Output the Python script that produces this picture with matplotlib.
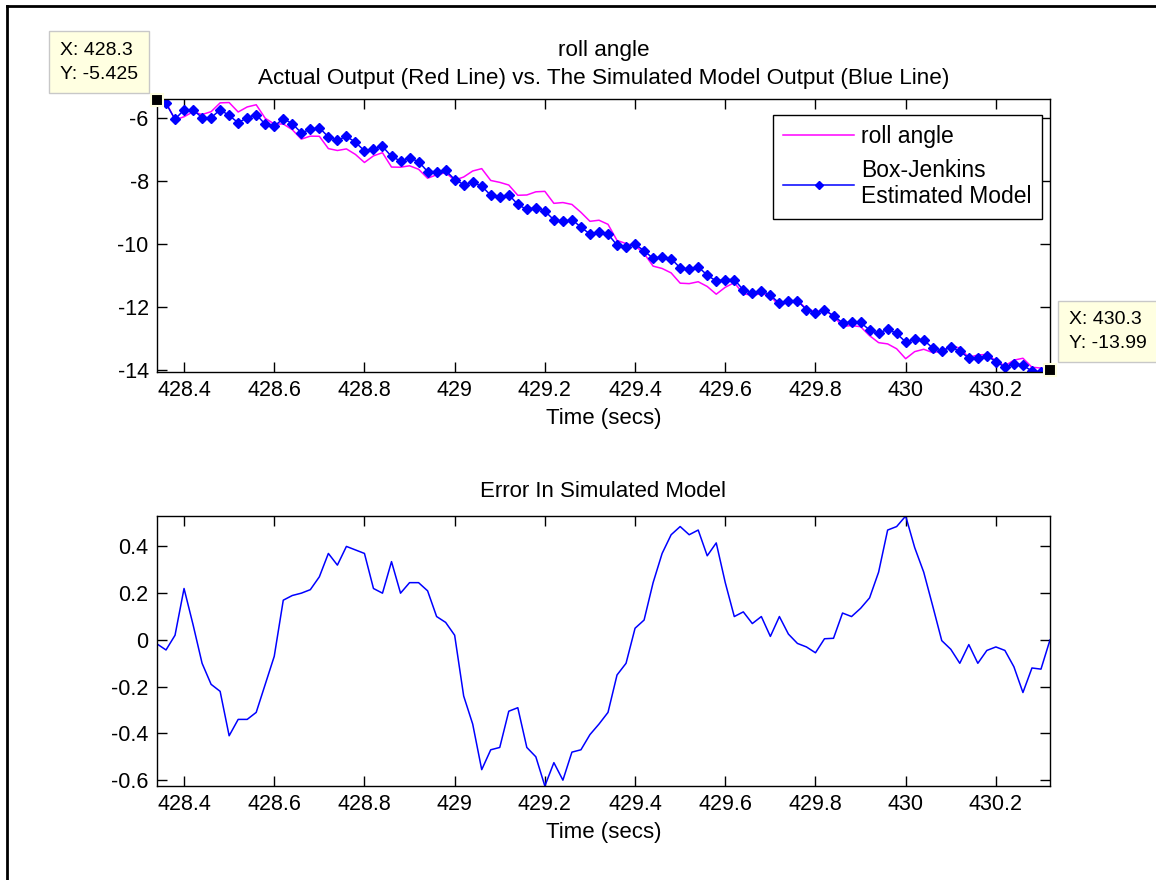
import matplotlib
matplotlib.use('Agg')
import matplotlib.pyplot as plt
from matplotlib.lines import Line2D
from matplotlib.ticker import FuncFormatter
import numpy as np

plt.rcParams['font.family'] = ['Liberation Sans', 'DejaVu Sans']
plt.rcParams['axes.unicode_minus'] = False

# amostragem: 50 Hz a partir de 428.34 s
t0 = 428.34
dt = 0.02

# saida simulada do modelo box-jenkins
modelo = [-5.425, -5.55, -6.05, -5.75, -5.75, -6.00, -6.00, -5.75, -5.93, -6.16,
          -6.00, -5.90, -6.21, -6.27, -6.03, -6.19, -6.48, -6.37, -6.32, -6.61,
          -6.72, -6.59, -6.78, -7.05, -6.99, -6.91, -7.23, -7.37, -7.28, -7.39,
          -7.71, -7.71, -7.67, -7.96, -8.12, -8.05, -8.17, -8.46, -8.51, -8.44,
          -8.75, -8.91, -8.85, -8.96, -9.24, -9.29, -9.23, -9.47, -9.69, -9.61,
          -9.69, -10.04, -10.09, -10.01, -10.22, -10.46, -10.41, -10.47, -10.76, -10.81,
          -10.73, -10.99, -11.18, -11.13, -11.13, -11.46, -11.56, -11.48, -11.63, -11.88,
          -11.80, -11.80, -12.09, -12.20, -12.09, -12.28, -12.50, -12.49, -12.49, -12.73,
          -12.84, -12.70, -12.84, -13.11, -13.02, -13.05, -13.30, -13.40, -13.27, -13.40,
          -13.62, -13.62, -13.55, -13.73, -13.91, -13.80, -13.85, -14.03, -14.06, -13.99]

# erro = modelo - medido
erro = [-0.017, -0.043, 0.02, 0.22, 0.065, -0.10, -0.19, -0.22, -0.41, -0.34,
        -0.34, -0.31, -0.19, -0.07, 0.17, 0.19, 0.20, 0.215, 0.27, 0.37,
        0.32, 0.40, 0.385, 0.37, 0.22, 0.20, 0.335, 0.20, 0.245, 0.245,
        0.21, 0.10, 0.075, 0.02, -0.24, -0.36, -0.555, -0.47, -0.46, -0.305,
        -0.29, -0.46, -0.50, -0.625, -0.525, -0.60, -0.48, -0.47, -0.405, -0.36,
        -0.31, -0.15, -0.10, 0.05, 0.085, 0.245, 0.37, 0.45, 0.485, 0.45,
        0.47, 0.36, 0.415, 0.245, 0.10, 0.12, 0.07, 0.10, 0.015, 0.10,
        0.025, -0.015, -0.03, -0.055, 0.005, 0.007, 0.115, 0.10, 0.135, 0.18,
        0.29, 0.47, 0.485, 0.53, 0.395, 0.29, 0.145, -0.003, -0.04, -0.10,
        -0.02, -0.10, -0.045, -0.03, -0.045, -0.115, -0.225, -0.12, -0.125, 0.0]

xticks = [428.4, 428.6, 428.8, 429.0, 429.2, 429.4, 429.6, 429.8, 430.0, 430.2]
yticks_ang = [-14, -12, -10, -8, -6]
yticks_err = [-0.6, -0.4, -0.2, 0, 0.2, 0.4]

modelo = np.array(modelo)
erro = np.array(erro)
t = t0 + dt * np.arange(len(modelo))
medido = modelo - erro

fs = 15.5
fmt = FuncFormatter(lambda v, p: '%g' % round(v, 6))


def arruma_eixo(ax, yticks):
    ax.set_xlim(t[0], t[-1])
    ax.set_xticks(xticks)
    ax.set_yticks(yticks)
    ax.xaxis.set_major_formatter(fmt)
    ax.yaxis.set_major_formatter(fmt)
    ax.tick_params(direction='in', length=7, width=1, top=True, right=True,
                   labelsize=fs, pad=6)
    for s in ax.spines.values():
        s.set_linewidth(1)
    ax.set_xlabel('Time (secs)', fontsize=16, labelpad=5)


fig = plt.figure(figsize=(11.56, 8.8), dpi=100)
ax1 = fig.add_axes([0.1358, 0.5773, 0.7725, 0.3102])
ax2 = fig.add_axes([0.1358, 0.1068, 0.7725, 0.3068])

# grafico de cima: saida real x modelo
ax1.plot(t, medido, color='#ff00ff', lw=1.1, label='roll angle')
ax1.plot(t, modelo, color='#0000ff', lw=1.1, marker='D', ms=5.5,
         label='Box-Jenkins\nEstimated Model')
arruma_eixo(ax1, yticks_ang)
ax1.set_ylim(min(medido.min(), modelo.min()), max(medido.max(), modelo.max()))
ax1.set_title('roll angle\nActual Output (Red Line) vs. The Simulated Model Output (Blue Line)',
              fontsize=16.2, pad=11, linespacing=1.45)
leg = ax1.legend(loc='upper right', bbox_to_anchor=(0.991, 0.941), borderaxespad=0,
                 fontsize=16.5, fancybox=False, framealpha=1, edgecolor='k',
                 handlelength=3.1, handletextpad=0.3, labelspacing=0.45, borderpad=0.45)
leg.get_frame().set_linewidth(1)
leg.legend_handles[1].set_markersize(4)

# data tips nas pontas
dicas = [(0, (-19, 17), 'right'), (-1, (19, 18), 'left')]
for i, off, ha in dicas:
    ax1.plot(t[i], modelo[i], 's', color='k', mec='#ffffe0', mew=1.5, ms=9,
             clip_on=False, zorder=10)
    ax1.annotate('X: %.4g\nY: %.4g' % (t[i], modelo[i]), xy=(t[i], modelo[i]),
                 xytext=off, textcoords='offset pixels', ha=ha, va='bottom',
                 multialignment='left', fontsize=14, linespacing=1.5,
                 annotation_clip=False, zorder=11,
                 bbox=dict(boxstyle='square,pad=0.55', fc='#ffffe1', ec='#c8c8c8', lw=1))

# grafico de baixo: erro
ax2.plot(t, erro, color='#0000ff', lw=1.1)
arruma_eixo(ax2, yticks_err)
ax2.set_ylim(erro.min(), erro.max())
ax2.set_title('Error In Simulated Model', fontsize=16, pad=14)

# moldura da janela
fig.add_artist(Line2D([0.006, 1.0], [0.9937, 0.9937], color='k', lw=2, transform=fig.transFigure))
fig.add_artist(Line2D([0.006, 0.006], [0.0, 0.9937], color='k', lw=2, transform=fig.transFigure))

fig.savefig('out.png', dpi=100)
